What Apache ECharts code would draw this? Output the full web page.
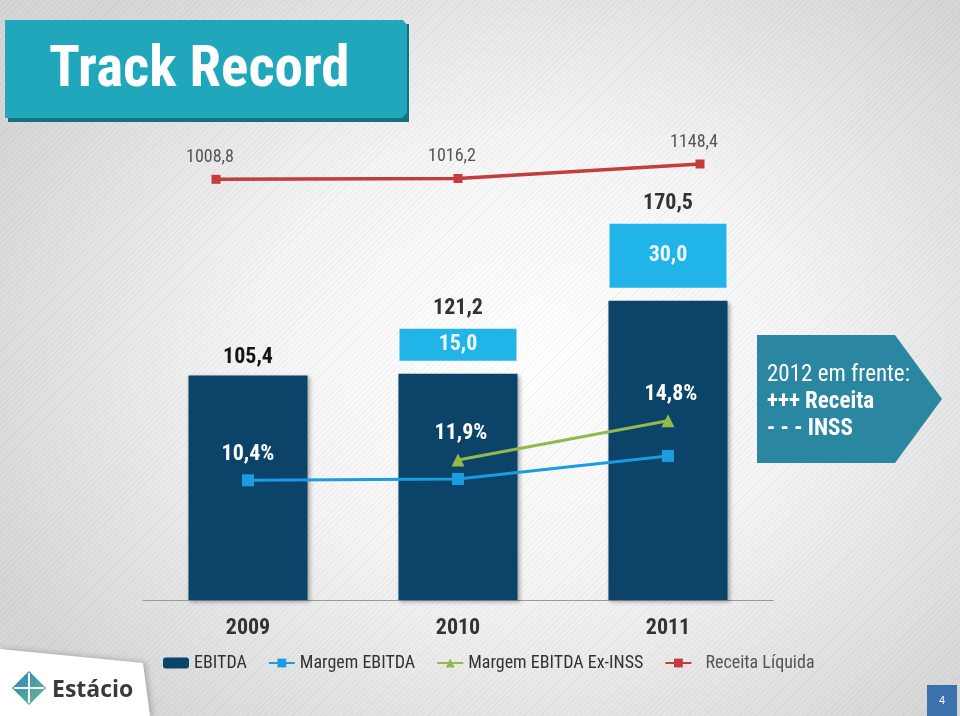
<!DOCTYPE html>
<html><head><meta charset="utf-8">
<script src="https://cdn.jsdelivr.net/npm/echarts@6/dist/echarts.min.js"></script>
<style>
html,body{margin:0;padding:0;}
#main{width:960px;height:716px;
background:
 repeating-linear-gradient(135deg, rgba(0,0,0,0.035) 0px, rgba(0,0,0,0.035) 1px, rgba(255,255,255,0) 1px, rgba(255,255,255,0) 4px),
 radial-gradient(ellipse 62% 68% at 55% 50%, #ffffff 0%, #f5f5f5 45%, #d6d6d6 100%);
}
</style></head><body><div id="main"></div>
<script>
// ---- data ----
const categories = ['2009', '2010', '2011'];
const ebitdaTotal = [105.4, 121.2, 170.5];
const inssEffect = [null, 15.0, 30.0];
const margemEbitda = [10.4, 10.5, 12.2];
const margemExInss = [null, 11.9, 14.8];
const receitaLiquida = [1008.8, 1016.2, 1148.4];
const legendNames = ['EBITDA', 'Margem EBITDA', 'Margem EBITDA Ex-INSS', 'Receita Líquida'];

const NARROW = "'Roboto Condensed','Liberation Sans',sans-serif";
const fmt = v => v.toFixed(1).replace('.', ',');
const pct = v => fmt(v) + '%';

const ebitdaBase = ebitdaTotal.map((t, i) => inssEffect[i] == null ? t : +(t - inssEffect[i]).toFixed(1));

const chart = echarts.init(document.getElementById('main'), null, {renderer: 'canvas'});

function renderInss(params, api) {
  const i = api.value(0), base = api.value(1), v = api.value(2), tot = api.value(3);
  const b = api.coord([i, base]);
  const t = api.coord([i, base + v]);
  const w = api.size([1, 0])[0] * 0.557;
  const gap = 13;
  const h = b[1] - t[1];
  const y0 = t[1] - gap;
  return {
    type: 'group',
    children: [
      {type: 'rect', shape: {x: b[0] - w / 2, y: y0, width: w, height: h}, style: {fill: '#21b4e8'}},
      {type: 'text', style: {text: fmt(v), x: b[0], y: y0 + h / 2, align: 'center', verticalAlign: 'middle',
        fill: '#eef9fd', font: 'bold 22px ' + NARROW}},
      {type: 'text', style: {text: fmt(tot), x: b[0], y: y0 - 20, align: 'center', verticalAlign: 'middle',
        fill: '#333333', font: 'bold 22px ' + NARROW}}
    ]
  };
}

const option = {
  animation: false,
  backgroundColor: 'transparent',
  grid: [
    {left: 143, width: 630, top: 100, height: 500},
    {left: 95, width: 726, top: 100, height: 500}
  ],
  xAxis: [
    {type: 'category', gridIndex: 0, data: categories,
      axisLine: {lineStyle: {color: '#9a9a9a', width: 1}}, axisTick: {show: false},
      axisLabel: {margin: 17, color: '#333', fontSize: 22, fontWeight: 'bold', fontFamily: NARROW}},
    {type: 'category', gridIndex: 1, data: categories, show: false}
  ],
  yAxis: [
    {type: 'value', gridIndex: 0, min: 0, max: 234.7, show: false},
    {type: 'value', gridIndex: 0, min: 1.568, max: 38.468, show: false},
    {type: 'value', gridIndex: 1, min: -2829.7, max: 1732.3, show: false}
  ],
  legend: {
    left: 163, top: 654, padding: 0, itemWidth: 26, itemHeight: 11, itemGap: 21,
    textStyle: {fontFamily: NARROW, fontSize: 18, color: '#333'},
    data: [legendNames[0], legendNames[1], legendNames[2],
      {name: legendNames[3], textStyle: {color: '#555', padding: [4, 0, 0, 9]}}]
  },
  series: [
    {
      name: legendNames[0], type: 'bar', xAxisIndex: 0, yAxisIndex: 0, barWidth: '56.7%',
      data: ebitdaBase.map((v, i) => ({value: v, label: {show: inssEffect[i] == null}})),
      itemStyle: {color: '#0b4468', shadowColor: 'rgba(0,0,0,0.3)', shadowBlur: 4, shadowOffsetX: 2, shadowOffsetY: 2},
      label: {position: 'top', distance: 7, formatter: p => fmt(ebitdaTotal[p.dataIndex]),
        color: '#151515', fontSize: 22, fontWeight: 'bold', fontFamily: NARROW},
      z: 2
    },
    {
      name: 'INSS', type: 'custom', xAxisIndex: 0, yAxisIndex: 0,
      renderItem: renderInss,
      encode: {x: 0, y: 1},
      data: categories.map((c, i) => inssEffect[i] == null ? null : [i, ebitdaBase[i], inssEffect[i], ebitdaTotal[i]]).filter(d => d),
      z: 2
    },
    {
      name: legendNames[1], type: 'line', xAxisIndex: 0, yAxisIndex: 1,
      data: margemEbitda.map((v, i) => ({value: v, label: {show: i === 0}})),
      symbol: 'rect', symbolSize: 12, color: '#1b9ce2', lineStyle: {width: 3, color: '#1b9ce2'},
      itemStyle: {color: '#1b9ce2'},
      label: {position: 'top', distance: 9, formatter: p => pct(p.value),
        color: '#ffffff', fontSize: 22, fontWeight: 'bold', fontFamily: NARROW},
      z: 5
    },
    {
      name: legendNames[2], type: 'line', xAxisIndex: 0, yAxisIndex: 1,
      data: margemExInss,
      symbol: 'triangle', symbolSize: 13, color: '#93b84c', lineStyle: {width: 3, color: '#93b84c'},
      itemStyle: {color: '#93b84c'},
      label: {show: true, position: 'top', distance: 9, offset: [3, 0], formatter: p => pct(p.value),
        color: '#ffffff', fontSize: 22, fontWeight: 'bold', fontFamily: NARROW},
      z: 5
    },
    {
      name: legendNames[3], type: 'line', xAxisIndex: 1, yAxisIndex: 2,
      data: receitaLiquida,
      symbol: 'rect', symbolSize: 9, color: '#c43c3c', lineStyle: {width: 3.5, color: '#c43c3c'},
      itemStyle: {color: '#c43c3c'},
      label: {show: true, position: 'top', distance: 8, offset: [-6, 0], formatter: p => fmt(p.value),
        color: '#555555', fontSize: 18, fontFamily: NARROW},
      z: 5
    }
  ],
  graphic: [
    // title banner
    {type: 'rect', shape: {x: 8, y: 24, width: 401, height: 98}, style: {fill: '#17707f'}, z: 10},
    {type: 'polygon', shape: {points: [[5, 20], [403, 20], [407, 25], [407, 113], [402, 118], [5, 118]]},
      style: {fill: '#21a7bc'}, z: 11},
    {type: 'text', x: 49, y: 72, style: {text: 'Track Record', font: 'bold 57px ' + NARROW, fill: '#ffffff',
      verticalAlign: 'middle'}, z: 12},
    // callout
    {type: 'polygon', shape: {points: [[757, 335], [895, 335], [942, 399], [895, 463], [757, 463]]},
      style: {fill: '#2a86a1'}, z: 10},
    {type: 'text', x: 767, y: 375, style: {text: '2012 em frente:', font: '23px ' + NARROW,
      fill: '#ffffff', verticalAlign: 'middle'}, z: 11},
    {type: 'text', x: 767, y: 402, style: {text: '+++ Receita', font: 'bold 23px ' + NARROW,
      fill: '#ffffff', verticalAlign: 'middle'}, z: 11},
    {type: 'text', x: 767, y: 429, style: {text: '- - - INSS', font: 'bold 23px ' + NARROW,
      fill: '#ffffff', verticalAlign: 'middle'}, z: 11},
    // logo card
    {type: 'polygon', shape: {points: [[0, 649], [143, 663], [150, 716], [0, 716]]},
      style: {fill: '#ffffff', shadowColor: 'rgba(0,0,0,0.25)', shadowBlur: 6, shadowOffsetX: 2}, z: 10},
    {type: 'polygon', shape: {points: [[29, 671], [46, 688], [29, 705], [12, 688]]},
      style: {fill: new echarts.graphic.LinearGradient(0, 0, 1, 1, [{offset: 0, color: '#2a7fc0'}, {offset: 1, color: '#6cc08a'}])}, z: 11},
    {type: 'line', shape: {x1: 29, y1: 673, x2: 29, y2: 703}, style: {stroke: '#ffffff', lineWidth: 2}, z: 12},
    {type: 'line', shape: {x1: 14, y1: 688, x2: 44, y2: 688}, style: {stroke: '#ffffff', lineWidth: 2}, z: 12},
    {type: 'text', x: 52, y: 690, style: {text: 'Estácio', font: 'bold 23px "Open Sans", sans-serif', fill: '#3a3a3a',
      verticalAlign: 'middle'}, z: 12},
    // page number
    {type: 'rect', shape: {x: 927, y: 685, width: 30, height: 31}, style: {fill: '#3b72ad'}, z: 10},
    {type: 'text', x: 942, y: 701, style: {text: '4', font: '11px "Liberation Sans", sans-serif', fill: '#ffffff',
      align: 'center', verticalAlign: 'middle'}, z: 11}
  ]
};
chart.setOption(option);
</script>
</body></html>
